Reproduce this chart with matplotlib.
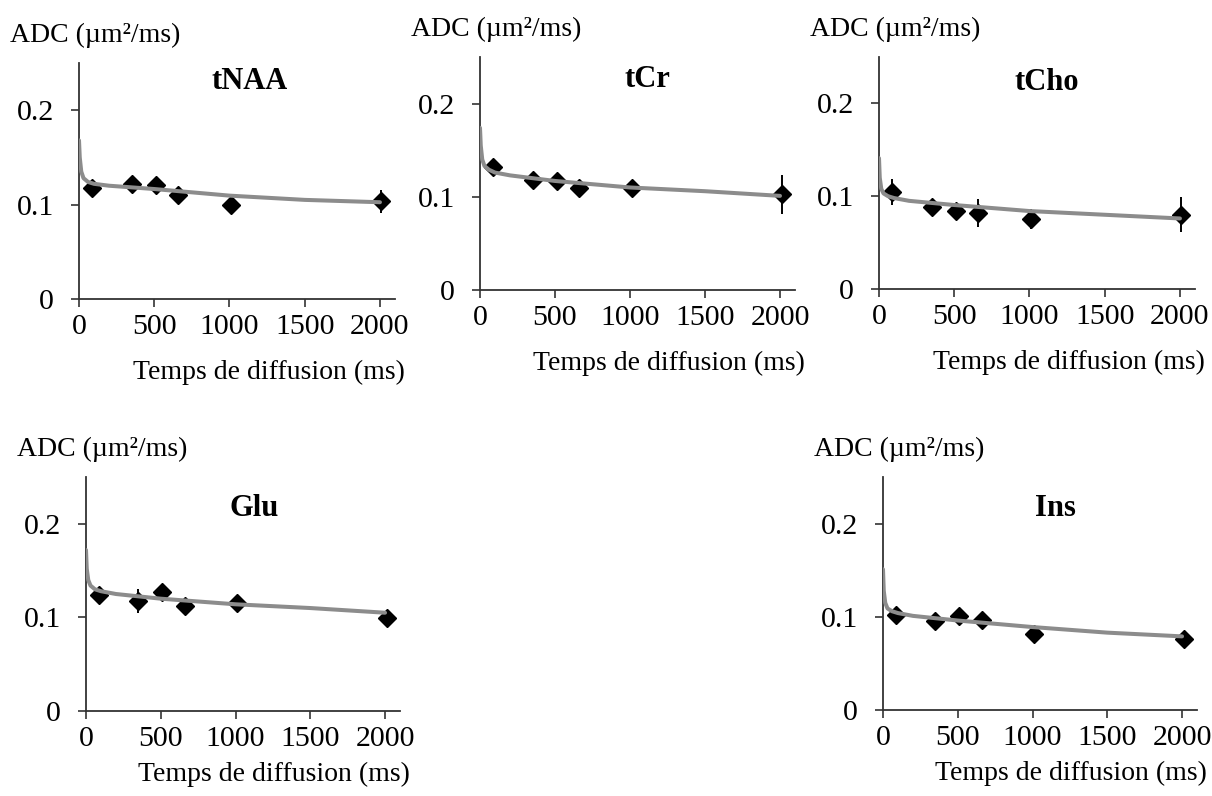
import matplotlib
matplotlib.use('Agg')
import matplotlib.pyplot as plt

# Diffusion times of the measured points (ms)
times = [85, 350, 510, 660, 1010, 2010]

# Measured ADC (um^2/ms) and error bars
metabolites = ['tNAA', 'tCr', 'tCho', 'Glu', 'Ins']
adc_tnaa = [0.118, 0.122, 0.121, 0.110, 0.100, 0.1035]
adc_tcr = [0.1325, 0.118, 0.1165, 0.1095, 0.1095, 0.1025]
adc_tcho = [0.104, 0.088, 0.0845, 0.082, 0.0757, 0.080]
adc_glu = [0.1244, 0.1173, 0.127, 0.1127, 0.1155, 0.0996]
adc_ins = [0.1018, 0.096, 0.1007, 0.0968, 0.0813, 0.076]

err_tnaa = [0.006, 0.003, 0.003, 0.004, 0.003, 0.012]
err_tcr = [0.005, 0.004, 0.005, 0.004, 0.004, 0.021]
err_tcho = [0.014, 0.003, 0.004, 0.015, 0.011, 0.019]
err_glu = [0.008, 0.013, 0.003, 0.004, 0.006, 0.008]
err_ins = [0.004, 0.003, 0.003, 0.004, 0.005, 0.006]

# Fitted model curves
fit_t = [0, 5, 15, 30, 60, 100, 200, 500, 1000, 1500, 2000]
fit_tnaa = [0.168, 0.150, 0.135, 0.128, 0.124, 0.122, 0.120, 0.1165, 0.1095, 0.105, 0.1025]
fit_tcr = [0.174, 0.155, 0.140, 0.133, 0.129, 0.126, 0.123, 0.117, 0.110, 0.106, 0.101]
fit_tcho = [0.141, 0.120, 0.108, 0.103, 0.100, 0.098, 0.095, 0.0905, 0.084, 0.080, 0.076]
fit_glu = [0.172, 0.152, 0.140, 0.134, 0.130, 0.128, 0.125, 0.120, 0.114, 0.110, 0.105]
fit_ins = [0.151, 0.128, 0.115, 0.109, 0.106, 0.104, 0.101, 0.096, 0.089, 0.083, 0.079]

adc = [adc_tnaa, adc_tcr, adc_tcho, adc_glu, adc_ins]
err = [err_tnaa, err_tcr, err_tcho, err_glu, err_ins]
fits = [fit_tnaa, fit_tcr, fit_tcho, fit_glu, fit_ins]

xticks = [0, 500, 1000, 1500, 2000]
yticks = [0, 0.1, 0.2]
yticklabels = ['0', '0.1', '0.2']

# layout (pixels): left, top, right, bottom ; title position in axes fraction
W, H = 1212, 796
boxes = [(79, 63, 395, 299), (480, 57, 795, 290), (879, 57, 1195, 289),
         (86, 477, 400, 711), (883, 477, 1197, 710)]
title_pos = [(0.54, 0.92), (0.53, 0.905), (0.53, 0.89), (0.535, 0.865), (0.55, 0.865)]
xlabel_dy = [-53, -53, -53, -46, -46]

plt.rcParams['font.family'] = ['Liberation Serif', 'DejaVu Serif']

fig = plt.figure(figsize=(W / 100, H / 100), dpi=100)

for i, name in enumerate(metabolites):
    l, t, r, b = boxes[i]
    ax = fig.add_axes([l / W, 1 - b / H, (r - l) / W, (b - t) / H])

    ax.errorbar(times, adc[i], yerr=err[i], fmt='D', color='black',
                ms=9.5, elinewidth=1.4, capsize=0, zorder=3)
    ax.plot(fit_t, fits[i], color='#8c8c8c', lw=2.9, zorder=4,
            solid_capstyle='round')

    ax.set_xlim(0, 2100)
    ax.set_ylim(0, 0.25)
    ax.set_xticks(xticks)
    ax.set_yticks(yticks)
    ax.set_yticklabels(yticklabels)
    ax.tick_params(axis='both', direction='out', length=6, width=1.2,
                   labelsize=21.5, colors='#333333', labelcolor='black')
    ax.tick_params(axis='y', pad=12)
    ax.tick_params(axis='x', pad=5)
    for s in ['top', 'right']:
        ax.spines[s].set_visible(False)
    for s in ['left', 'bottom']:
        ax.spines[s].set_color('#333333')
        ax.spines[s].set_linewidth(1.3)

    ax.text(title_pos[i][0], title_pos[i][1], name, transform=ax.transAxes,
            ha='center', va='center', fontsize=22, fontweight='bold')

    ax.annotate('ADC (µm²/ms)', xy=(0, 1), xycoords='axes fraction',
                xytext=(-50, 20), textcoords='offset points',
                ha='left', va='center', fontsize=20)
    ax.annotate('Temps de diffusion (ms)', xy=(1, 0), xycoords='axes fraction',
                xytext=(7, xlabel_dy[i]), textcoords='offset points',
                ha='right', va='center', fontsize=20)

fig.savefig('out.png', dpi=100)
plt.close(fig)
